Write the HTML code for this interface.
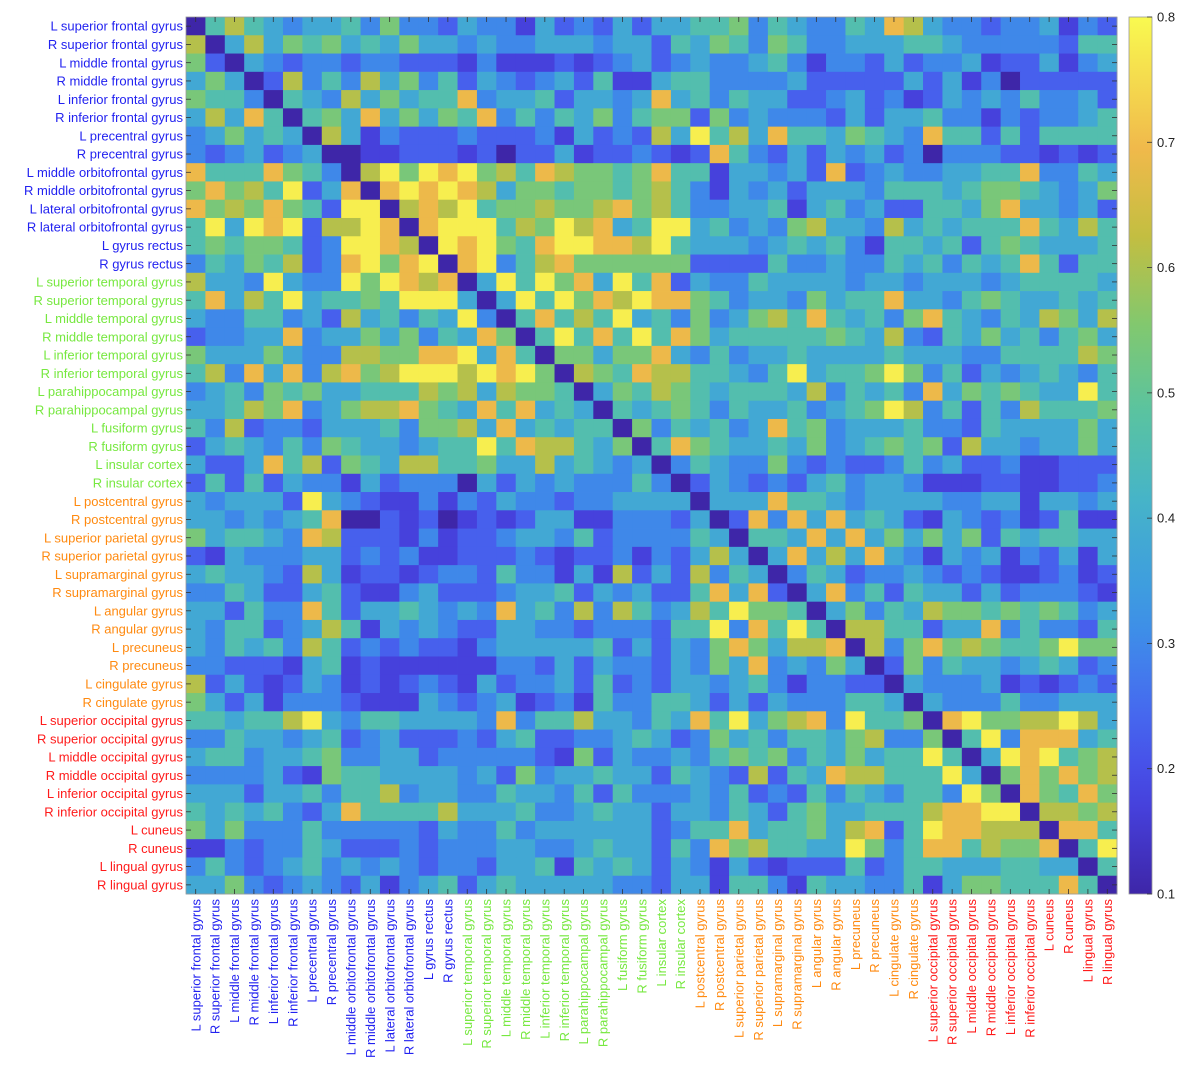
<!DOCTYPE html>
<html><head><meta charset="utf-8"><style>
html,body{margin:0;padding:0;background:#fff;}
svg{display:block;font-family:"Liberation Sans",Arial,sans-serif;}
</style></head><body>
<svg id="chart" width="1186" height="1080" viewBox="0 0 1186 1080" xmlns="http://www.w3.org/2000/svg">
<rect x="0" y="0" width="1186" height="1080" fill="#ffffff"/>
<g id="cells"></g>
<g id="ticks"></g>
<g id="ylabels"></g>
<g id="xlabels"></g>
<g id="cbar"></g>
</svg>
<script>
const regions = ["L superior frontal gyrus","R superior frontal gyrus","L middle frontal gyrus","R middle frontal gyrus","L inferior frontal gyrus","R inferior frontal gyrus","L precentral gyrus","R precentral gyrus","L middle orbitofrontal gyrus","R middle orbitofrontal gyrus","L lateral orbitofrontal gyrus","R lateral orbitofrontal gyrus","L gyrus rectus","R gyrus rectus","L superior temporal gyrus","R superior temporal gyrus","L middle temporal gyrus","R middle temporal gyrus","L inferior temporal gyrus","R inferior temporal gyrus","L parahippocampal gyrus","R parahippocampal gyrus","L fusiform gyrus","R fusiform gyrus","L insular cortex","R insular cortex","L postcentral gyrus","R postcentral gyrus","L superior parietal gyrus","R superior parietal gyrus","L supramarginal gyrus","R supramarginal gyrus","L angular gyrus","R angular gyrus","L precuneus","R precuneus","L cingulate gyrus","R cingulate gyrus","L superior occipital gyrus","R superior occipital gyrus","L middle occipital gyrus","R middle occipital gyrus","L inferior occipital gyrus","R inferior occipital gyrus","L cuneus","R cuneus","L lingual gyrus","R lingual gyrus"];
const groupOf = [0,0,0,0,0,0,0,0,0,0,0,0,0,0,1,1,1,1,1,1,1,1,1,1,1,1,2,2,2,2,2,2,2,2,2,2,2,2,3,3,3,3,3,3,3,3,3,3];
const groupColors = ["#2222f0","#77e840","#ff8a10","#ff1a1a"];
// correlation level for each digit code
const levels = [0.10,0.17,0.23,0.30,0.38,0.46,0.54,0.61,0.69,0.78];
// rows 0-23, columns 0-23
const upperLeft = [
"057543445363324331423242","704746564546443433444344","620432332332221311121234","464027353746352432342511",
"655305437464558344524434","474850564846465835354635","346454074132223222314232","323423400112221202241223",
"855586530796989675876656","686759248089898746656656","867686529907879566766786","594989277980899957697845",
"565665239987098965899887","354657238968908935786666","744394339698780495968495","584759455659994049596879",
"433553427453549305857594","233448344646354860595859","644464337766889485066466","573848378679997989607658",
"345365644555767476650465","445768346778654858454054","537233244453667484545506","245435365443455958775460"];
// rows 0-23, columns 24-47
const upperRight = [
"445563543354874332334132","254653653344455433333255","234334531332423341224134","455333342222242413022222",
"845354422342312434353342","662634333242445331323345","749574855465438552525555","212853242434230333221212",
"855144342823433445583354","753143424443555456654346","753344514534225546844342","994534367443745455585475",
"954443454531554525654445","662222533433545354585255","824335444434434443455554","886534436455844356544545",
"536346758545368543547647","586455555654732546453564","843534454444544433555576","775543594556963524345435",
"765455547354538465654495","565354453456973525375556","354534856344453325444464","586544546345656274434464"];
// rows 24-47, columns 0-47
const lowerRows = [
"422485726547755644745434035433632322353422311222",
"252524331423330424343335302432324534431112211223",
"434442943211313243323344440444855434444334414434",
"443434580021201212441133324028384845421432312511",
"645543872221312234435233335405548484646462545544",
"214333442323112223212231324740484748431434132414",
"454432741221233253314172427354035423343232112312",
"335422452113422234452434225848204835254424233321",
"442533852445434384537375347596650463547665656534",
"435523475143432244332333255938595077552448353325",
"435453752323221344444524243686477807368676556966",
"332221451211111133242433243648343640263544345423",
"724212431212321423342523244345313322043334121232",
"642413332111432341231533554242433355404333533444",
"554557943554444383557443548594678395560896677974",
"335443452342223245223345423645355467336059388845",
"455344563344233333216243343565635464559504989567",
"333342165544443426344544254327254877555940686867",
"444244535573443354435253334352325354355396086586",
"545453248555574445334544244354256445557889907767",
"646333533333243353444444235584556478259887770885",
"113233542223233344334544253867554496358857668059",
"353234534343233244515454243142122252355444554405",
"446323432413452454444433244155315443351466555850"];
const cbTicks = [0.1,0.2,0.3,0.4,0.5,0.6,0.7,0.8];

const NS = "http://www.w3.org/2000/svg";
const N = regions.length;
const X0 = 186, Y0 = 17, W = 931, H = 877;
const cw = W / N, ch = H / N;
const vmin = 0.1, vmax = 0.8;
function xScale(j){ return X0 + j * cw; }
function yScale(i){ return Y0 + i * ch; }
function cellValue(i, j){
  if (i >= 24) return levels[+lowerRows[i-24][j]];
  if (j < 24) return levels[+upperLeft[i][j]];
  return levels[+upperRight[i][j-24]];
}
const stops = [[0,62,38,168],[0.12,72,70,230],[0.22,70,110,240],[0.32,60,150,230],[0.45,70,180,200],[0.55,90,195,160],[0.65,130,200,110],[0.75,195,190,65],[0.85,240,185,75],[1,249,250,80]];
function parula(v){
  let t = Math.max(0, Math.min(1, (v - vmin) / (vmax - vmin)));
  for (let k = 1; k < stops.length; k++) {
    if (t <= stops[k][0]) {
      const a = stops[k-1], b = stops[k], f = (t - a[0]) / (b[0] - a[0]);
      return "rgb(" + [1,2,3].map(c => Math.round(a[c] + f * (b[c] - a[c]))).join(",") + ")";
    }
  }
  return "rgb(249,250,80)";
}
function mk(tag, attrs, parent){
  const e = document.createElementNS(NS, tag);
  for (const k in attrs) e.setAttribute(k, attrs[k]);
  parent.appendChild(e);
  return e;
}
const gCells = document.getElementById("cells");
for (let i = 0; i < N; i++) {
  for (let j = 0; j < N; j++) {
    const r = mk("rect", {x: xScale(j).toFixed(2), y: yScale(i).toFixed(2), width: (cw + 0.4).toFixed(2), height: (ch + 0.4).toFixed(2), fill: parula(cellValue(i, j))}, gCells);
    
    
  }
}
const gT = document.getElementById("ticks");
const border = mk("rect", {x: X0, y: Y0, width: W, height: H, fill: "none", stroke: "#9a9a9a", "stroke-width": 0.8}, gT);


for (let k = 0; k < N; k++) {
  const cx = xScale(k) + cw / 2, cy = yScale(k) + ch / 2;
  const segs = [[cx, Y0, cx, Y0 + 5], [cx, Y0 + H, cx, Y0 + H - 5], [X0, cy, X0 + 5, cy], [X0 + W, cy, X0 + W - 5, cy]];
  for (const s of segs) {
    const l = mk("line", {x1: s[0], y1: s[1], x2: s[2], y2: s[3], stroke: "#333", "stroke-width": 0.8}, gT);
    
    
  }
}
const gY = document.getElementById("ylabels");
const gX = document.getElementById("xlabels");
for (let k = 0; k < N; k++) {
  const cy = yScale(k) + ch / 2;
  const t = mk("text", {x: 183, y: cy + 4.6, "text-anchor": "end", "font-size": 13, fill: groupColors[groupOf[k]]}, gY);
  t.textContent = regions[k];
  
  
  const cx = xScale(k) + cw / 2;
  const tx = mk("text", {x: 0, y: 0, "text-anchor": "end", "font-size": 13, fill: groupColors[groupOf[k]], transform: "translate(" + (cx + 4.6).toFixed(2) + ",899) rotate(-90)"}, gX);
  tx.textContent = regions[k];
  
  
}
const gC = document.getElementById("cbar");
const CBX = 1129, CBW = 23;
const defs = mk("defs", {}, gC);
const grad = mk("linearGradient", {id: "cbgrad", x1: 0, y1: 1, x2: 0, y2: 0}, defs);
for (let k = 0; k <= 20; k++) {
  const v = vmin + (vmax - vmin) * k / 20;
  mk("stop", {offset: (k / 20).toFixed(3), "stop-color": parula(v)}, grad);
}
const cb = mk("rect", {x: CBX, y: Y0, width: CBW, height: H, fill: "url(#cbgrad)", stroke: "#9a9a9a", "stroke-width": 0.8}, gC);


function cbY(v){ return Y0 + H - (v - vmin) / (vmax - vmin) * H; }
for (const v of cbTicks) {
  const y = cbY(v);
  const l1 = mk("line", {x1: CBX + CBW - 5, y1: y, x2: CBX + CBW, y2: y, stroke: "#333", "stroke-width": 0.8}, gC);
  
  
  const lb = mk("text", {x: 1157, y: y + 4.5, "font-size": 13, fill: "#222"}, gC);
  lb.textContent = v.toFixed(1);
  
  
}
</script>
</body></html>
